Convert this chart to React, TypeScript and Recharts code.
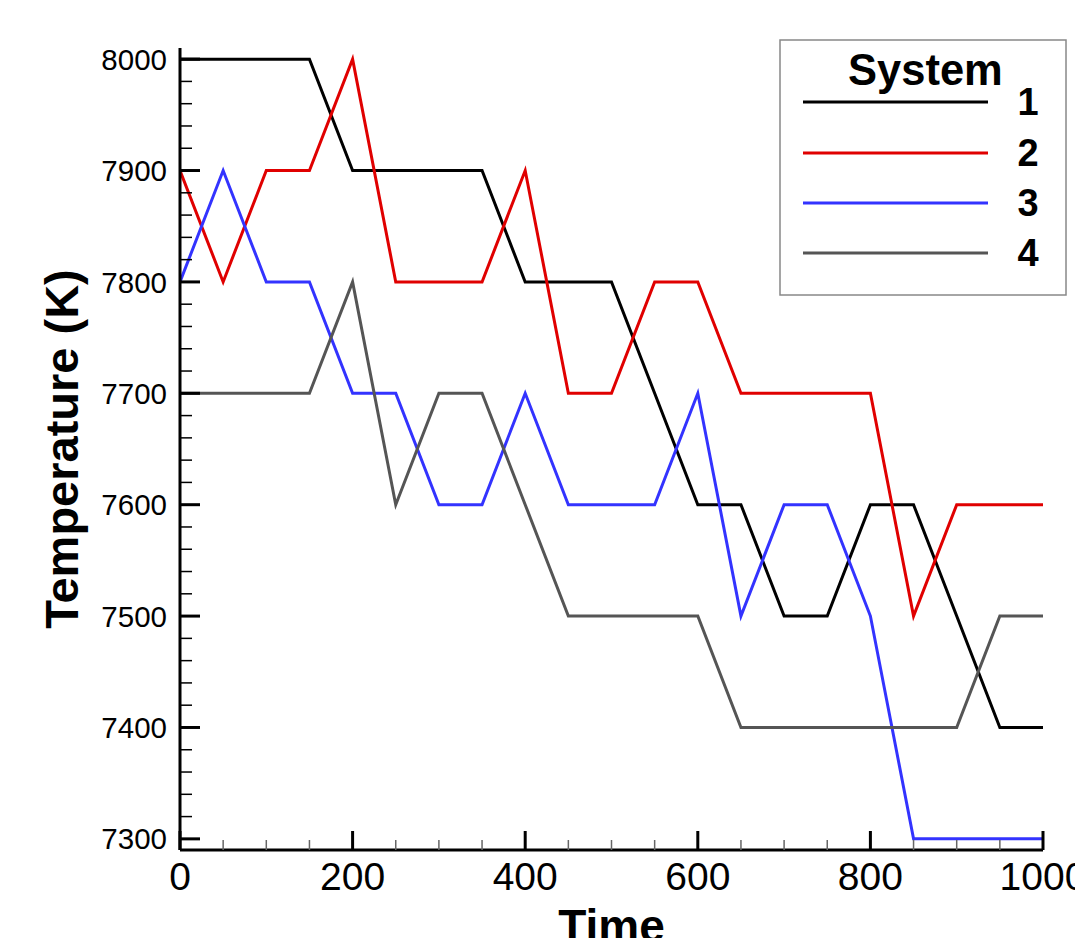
import React from 'react';
import { LineChart, Line, XAxis, YAxis } from 'recharts';

const times = [0, 50, 100, 150, 200, 250, 300, 350, 400, 450, 500, 550, 600, 650, 700, 750, 800, 850, 900, 950, 1000];
const system1 = [8000, 8000, 8000, 8000, 7900, 7900, 7900, 7900, 7800, 7800, 7800, 7700, 7600, 7600, 7500, 7500, 7600, 7600, 7500, 7400, 7400];
const system2 = [7900, 7800, 7900, 7900, 8000, 7800, 7800, 7800, 7900, 7700, 7700, 7800, 7800, 7700, 7700, 7700, 7700, 7500, 7600, 7600, 7600];
const system3 = [7800, 7900, 7800, 7800, 7700, 7700, 7600, 7600, 7700, 7600, 7600, 7600, 7700, 7500, 7600, 7600, 7500, 7300, 7300, 7300, 7300];
const system4 = [7700, 7700, 7700, 7700, 7800, 7600, 7700, 7700, 7600, 7500, 7500, 7500, 7500, 7400, 7400, 7400, 7400, 7400, 7400, 7500, 7500];

const seriesNames = ['1', '2', '3', '4'];
const seriesKeys = ['s1', 's2', 's3', 's4'];
const seriesColors = ['#000000', '#e00000', '#3333ff', '#555555'];

const yTicks: number[] = [];
for (let v = 7300; v <= 8000; v += 20) yTicks.push(v);
const xTicks: number[] = [];
for (let v = 0; v <= 1000; v += 50) xTicks.push(v);

const data = times.map((t, i) => ({
  t,
  s1: system1[i],
  s2: system2[i],
  s3: system3[i],
  s4: system4[i],
}));

const FONT = '"Liberation Sans", Arial, Helvetica, sans-serif';

const YTick = (props: any) => {
  const { x, y, payload } = props;
  const v = payload.value;
  const major = v % 100 === 0;
  return (
    <g>
      <line x1={x} x2={x + (major ? 20 : 12)} y1={y} y2={y} stroke="#000" strokeWidth={major ? 3 : 1.5} />
      {major && (
        <text x={x - 13} y={y} dy="0.36em" textAnchor="end" fontSize={29.5} fontFamily={FONT} fill="#000">
          {v}
        </text>
      )}
    </g>
  );
};

const XTick = (props: any) => {
  const { x, y, payload } = props;
  const v = payload.value;
  const major = v % 200 === 0;
  return (
    <g>
      <line x1={x} x2={x} y1={y} y2={y - (major ? 19 : 10)} stroke={major ? '#000' : '#666'} strokeWidth={major ? 3 : 1.5} />
      {major && (
        <text x={x} y={y + 40} textAnchor="middle" fontSize={39} fontFamily={FONT} fill="#000">
          {v}
        </text>
      )}
    </g>
  );
};

const YLabel = (props: any) => {
  const vb = props.viewBox || { x: 0, y: 48, width: 180, height: 802 };
  const cy = vb.y + vb.height / 2;
  const bx = 78;
  return (
    <text
      x={bx}
      y={cy}
      transform={`rotate(-90, ${bx}, ${cy})`}
      textAnchor="middle"
      fontSize={47}
      fontWeight="bold"
      fontFamily={FONT}
      fill="#000"
    >
      Temperature (K)
    </text>
  );
};

const legendRows = [102, 153, 203, 253];

export default function App() {
  return (
    <div style={{ position: 'absolute', left: 0, top: 0, width: 1075, height: 938, background: '#fff' }}>
      <LineChart width={1075} height={938} data={data} margin={{ top: 48, right: 32, left: 0, bottom: 0 }}>
        <XAxis
          dataKey="t"
          type="number"
          domain={[0, 1000]}
          ticks={xTicks}
          interval={0}
          allowDataOverflow
          height={88}
          tickSize={0}
          tickMargin={0}
          tickLine={false}
          axisLine={{ stroke: '#000', strokeWidth: 3 }}
          tick={<XTick />}
          label={{
            value: 'Time',
            position: 'insideBottom',
            offset: -4,
            style: { fontSize: 46, fontWeight: 'bold', fontFamily: FONT, fill: '#000' },
          }}
        />
        <YAxis
          type="number"
          domain={[7290, 8010]}
          ticks={yTicks}
          interval={0}
          allowDataOverflow
          width={180}
          tickSize={0}
          tickMargin={0}
          tickLine={false}
          axisLine={{ stroke: '#000', strokeWidth: 3 }}
          tick={<YTick />}
          label={{ content: <YLabel /> }}
        />
        {seriesKeys.map((k, i) => (
          <Line
            key={k}
            dataKey={k}
            name={seriesNames[i]}
            type="linear"
            stroke={seriesColors[i]}
            strokeWidth={3}
            dot={false}
            activeDot={false}
            isAnimationActive={false}
          />
        ))}
      </LineChart>
      <svg
        width={1075}
        height={938}
        style={{ position: 'absolute', left: 0, top: 0, pointerEvents: 'none' }}
      >
        <rect x={780} y={40} width={286} height={255} fill="#fff" stroke="#888" strokeWidth={1.5} />
        <text x={848} y={85} fontSize={43.5} fontWeight="bold" fontFamily={FONT} fill="#000">
          System
        </text>
        {seriesNames.map((n, i) => (
          <g key={n}>
            <line x1={803} x2={988} y1={legendRows[i]} y2={legendRows[i]} stroke={seriesColors[i]} strokeWidth={3} />
            <text
              x={1028}
              y={legendRows[i] + 13}
              textAnchor="middle"
              fontSize={38}
              fontWeight="bold"
              fontFamily={FONT}
              fill="#000"
            >
              {n}
            </text>
          </g>
        ))}
      </svg>
    </div>
  );
}
